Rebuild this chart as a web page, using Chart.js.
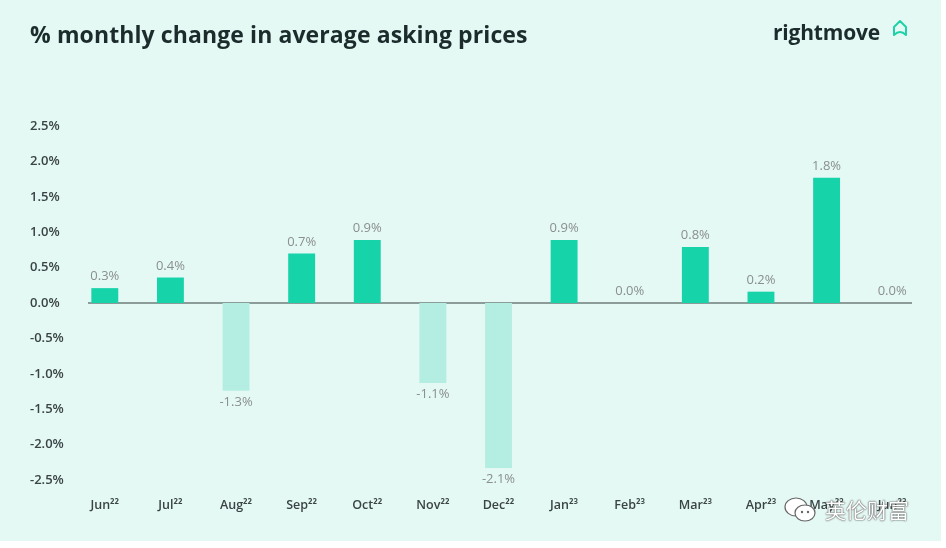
<!DOCTYPE html>
<html>
<head>
<meta charset="utf-8">
<title>% monthly change in average asking prices</title>
<script src="https://cdn.jsdelivr.net/npm/chart.js@4.4.1/dist/chart.umd.min.js"></script>
<style>
  html, body { margin: 0; padding: 0; background: #ffffff; }
  #panel {
    position: relative;
    width: 941px;
    height: 541px;
    background: #e4f9f4;
    overflow: hidden;
    font-family: "Open Sans", "Noto Sans", sans-serif;
  }
  #title {
    position: absolute;
    left: 30px;
    top: 18px;
    font-size: 23px;
    font-weight: 700;
    color: #1c2b2b;
    letter-spacing: 0.1px;
  }
  #logo {
    position: absolute;
    left: 773px;
    top: 18px;
    font-size: 21px;
    font-weight: 700;
    color: #1c2b2b;
    letter-spacing: -0.2px;
  }
  #logo svg { position: absolute; left: 119px; top: 1px; }
  #wm {
    position: absolute;
    left: 783px;
    top: 494px;
    font-family: "Noto Sans CJK SC", sans-serif;
    font-size: 21px;
    color: #ffffff;
    text-shadow: 0 0 2px #555, 0 0 1px #333;
  }
  #wm svg { vertical-align: -6px; margin-right: 8px; }
  #chartBox { position: absolute; left: 0; top: 0; width: 941px; height: 541px; }
</style>
</head>
<body>
<div id="panel">
  <div id="chartBox"><canvas id="changeChart"></canvas></div>
  <div id="title">% monthly change in average asking prices</div>
  <div id="logo">rightmove<svg width="16" height="18" viewBox="0 0 16 18"><path d="M2 16 V8 L8 2 L14 8 V16 Q8 10 2 16 Z" fill="none" stroke="#1fd1a8" stroke-width="2" stroke-linejoin="round"/></svg></div>
  <div id="wm"><svg width="34" height="28" viewBox="0 0 34 28"><ellipse cx="13" cy="11" rx="11" ry="9" fill="#fff" stroke="#666" stroke-width="1.2"/><ellipse cx="22" cy="17" rx="10" ry="8" fill="#fff" stroke="#666" stroke-width="1.2"/><circle cx="19" cy="16" r="1.2" fill="#666"/><circle cx="25" cy="16" r="1.2" fill="#666"/></svg>英伦财富</div>
</div>
<script>
// Chart data
const months = ["Jun²²", "Jul²²", "Aug²²", "Sep²²", "Oct²²", "Nov²²", "Dec²²",
  "Jan²³", "Feb²³", "Mar²³", "Apr²³", "May²³", "Jun²³"];
const changeValues = [0.21, 0.36, -1.24, 0.7, 0.89, -1.13, -2.33, 0.89, 0, 0.79, 0.16, 1.77, 0];
const valueLabels = ["0.3%", "0.4%", "-1.3%", "0.7%", "0.9%", "-1.1%", "-2.1%",
  "0.9%", "0.0%", "0.8%", "0.2%", "1.8%", "0.0%"];
const yTicks = [2.5, 2, 1.5, 1, 0.5, 0, -0.5, -1, -1.5, -2, -2.5];

const upColor = "#17d3aa";
const downColor = "#b4eee2";

// Zero line drawn only under the bars, like the original
const zeroLinePlugin = {
  id: "zeroLine",
  beforeDatasetsDraw(chart) {
    const { ctx, chartArea, scales } = chart;
    const y = scales.y.getPixelForValue(0);
    ctx.save();
    ctx.strokeStyle = "#8c9c99";
    ctx.lineWidth = 2;
    ctx.beginPath();
    ctx.moveTo(chartArea.left + 16, y);
    ctx.lineTo(chartArea.right - 13, y);
    ctx.stroke();
    ctx.restore();
  }
};

// Value labels above / below each bar
const valueLabelPlugin = {
  id: "valueLabels",
  afterDatasetsDraw(chart) {
    const { ctx } = chart;
    const meta = chart.getDatasetMeta(0);
    ctx.save();
    ctx.font = "13px 'Open Sans', 'Noto Sans', sans-serif";
    ctx.fillStyle = "#8a8f8f";
    ctx.textAlign = "center";
    meta.data.forEach((bar, i) => {
      const v = changeValues[i];
      if (v < 0) {
        ctx.textBaseline = "top";
        ctx.fillText(valueLabels[i], bar.x, bar.y + 5);
      } else {
        ctx.textBaseline = "bottom";
        ctx.fillText(valueLabels[i], bar.x, bar.y - 5);
      }
    });
    ctx.restore();
  }
};

new Chart(document.getElementById("changeChart"), {
  type: "bar",
  data: {
    labels: months,
    datasets: [{
      data: changeValues,
      backgroundColor: changeValues.map(v => (v < 0 ? downColor : upColor)),
      barPercentage: 0.41,
      categoryPercentage: 1
    }]
  },
  options: {
    responsive: true,
    maintainAspectRatio: false,
    animation: false,
    layout: { padding: { left: 30, right: 16, top: 126, bottom: 26 } },
    plugins: {
      legend: { display: false },
      tooltip: { enabled: false }
    },
    scales: {
      x: {
        grid: { display: false, drawTicks: false },
        border: { display: false },
        ticks: {
          color: "#3a4444",
          font: { family: "'Open Sans', 'Noto Sans', sans-serif", size: 12.5, weight: "600" },
          padding: 18,
          maxRotation: 0
        },
        afterFit(scale) { scale.height = 35; }
      },
      y: {
        min: -2.5,
        max: 2.5,
        grid: { display: false, drawTicks: false },
        border: { display: false },
        afterBuildTicks(scale) { scale.ticks = yTicks.map(v => ({ value: v })); },
        afterFit(scale) { scale.width = 42; },
        ticks: {
          crossAlign: "far",
          color: "#3a4444",
          font: { family: "'Open Sans', 'Noto Sans', sans-serif", size: 13, weight: "600" },
          callback: v => v.toFixed(1) + "%"
        }
      }
    }
  },
  plugins: [zeroLinePlugin, valueLabelPlugin]
});
</script>
</body>
</html>
